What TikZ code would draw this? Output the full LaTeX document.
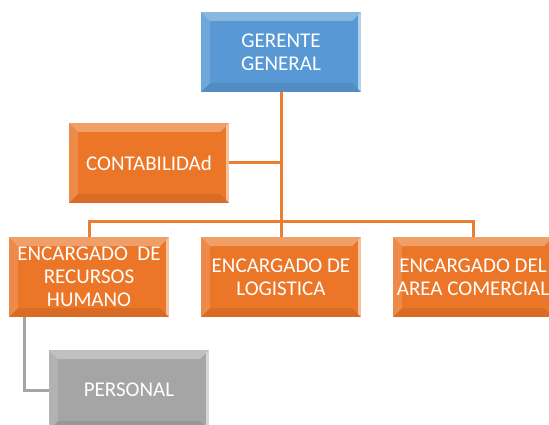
\documentclass[tikz,border=0pt]{standalone}
\usepackage{fontspec}
\setmainfont{Carlito}
\usepackage{xcolor}
\usetikzlibrary{calc}

\definecolor{azul}{RGB}{88,152,212}
\definecolor{naranja}{RGB}{236,118,40}
\definecolor{gris}{RGB}{165,165,165}
\definecolor{linea}{RGB}{237,125,49}

\begin{document}
\begin{tikzpicture}[x=1pt,y=-1pt]

\tikzset{
    caja/.style = {
    minimum height=80pt,
    minimum width=160pt,
    inner sep=0pt,
    align=center,
    text=white,
    font=\fontsize{21}{23}\selectfont,
    path picture={
        \fill[white,opacity=.3] (path picture bounding box.north west) -- (path picture bounding box.north east)
            -- ([shift={(-9pt,-9pt)}]path picture bounding box.north east) -- ([shift={(9pt,-9pt)}]path picture bounding box.north west) -- cycle;
        \fill[white,opacity=.15] (path picture bounding box.north west) -- (path picture bounding box.south west)
            -- ([shift={(9pt,9pt)}]path picture bounding box.south west) -- ([shift={(9pt,-9pt)}]path picture bounding box.north west) -- cycle;
        \fill[black,opacity=.08] (path picture bounding box.south west) -- (path picture bounding box.south east)
            -- ([shift={(-9pt,9pt)}]path picture bounding box.south east) -- ([shift={(9pt,9pt)}]path picture bounding box.south west) -- cycle;
        \fill[white,opacity=.55] (path picture bounding box.north east) -- (path picture bounding box.south east)
            -- ([shift={(-3pt,3pt)}]path picture bounding box.south east) -- ([shift={(-3pt,-3pt)}]path picture bounding box.north east) -- cycle;
    }
    }
}

\tikzstyle{jefe}=[caja, fill=azul]
\tikzstyle{area}=[caja, fill=naranja]
\tikzstyle{base}=[caja, fill=gris]
\tikzstyle{enlace}=[linea, line width=3pt]

\useasboundingbox (0,0) rectangle (549,425);

\node (gerente) [jefe] at (281,52) {GERENTE\\GENERAL};
\node (contab) [area] at (149,163) {CONTABILIDAd};

\node (rrhh) [area] at (89,277) {ENCARGADO~~DE\\RECURSOS\\HUMANO};
\node (logistica) [area] at (281,277) {ENCARGADO DE\\LOGISTICA};
\node (comercial) [area] at (473,277) {ENCARGADO DEL\\AREA COMERCIAL};

\node (personal) [base] at (129,390) {PERSONAL};

\coordinate (bus) at (281,221);

\draw[enlace] (gerente.south) -- (logistica.north);
\draw[enlace] (contab.east) -- (contab.east -| gerente.south);
\draw[enlace] (rrhh.north) |- (bus) -| (comercial.north);

\draw[gris, line width=3pt] ([xshift=16pt]rrhh.south west) |- (personal.west);

\end{tikzpicture}
\end{document}
